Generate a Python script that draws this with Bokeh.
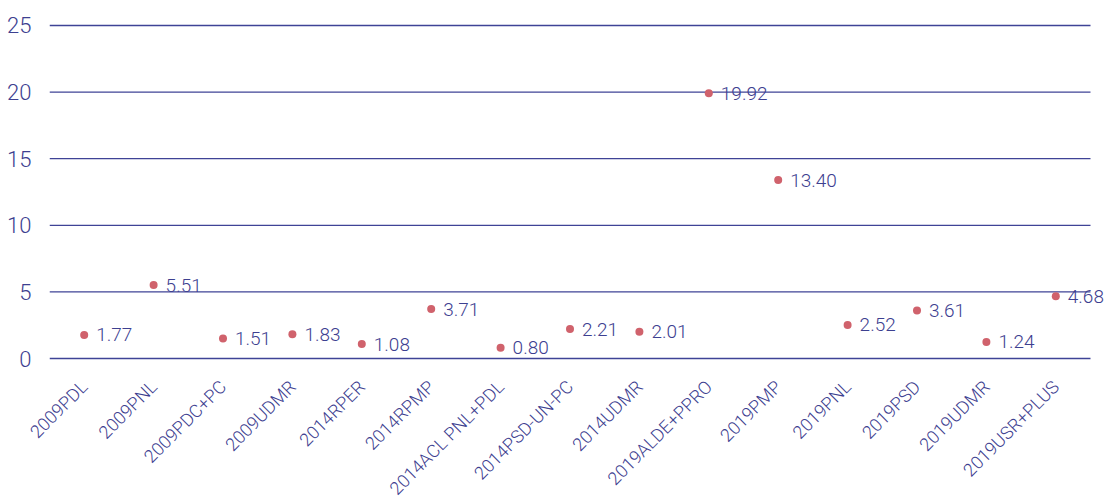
from bokeh.plotting import figure
from bokeh.models import ColumnDataSource, Range1d, FixedTicker
from bokeh.core.properties import value
from bokeh.embed import file_html
from bokeh.resources import INLINE
import math

categories = ["2009PDL", "2009PNL", "2009PDC+PC", "2009UDMR", "2014RPER", "2014RPMP",
              "2014ACL PNL+PDL", "2014PSD-UN-PC", "2014UDMR", "2019ALDE+PPRO", "2019PMP",
              "2019PNL", "2019PSD", "2019UDMR", "2019USR+PLUS"]
values = [1.77, 5.51, 1.51, 1.83, 1.08, 3.71, 0.80, 2.21, 2.01, 19.92, 13.40, 2.52, 3.61, 1.24, 4.68]
y_ticks = [0, 5, 10, 15, 20, 25]

FONT = "Roboto Light"
TEXT_COLOR = "#3d4090"
LINE_COLOR = "#3f4396"
DOT_COLOR = "#d0626c"

idx = list(range(len(categories)))
src = ColumnDataSource(dict(x=idx, cat=categories, val=values, lab=["%.2f" % v for v in values]))

n = len(categories)
# frame spans the category bands plus a little room on the right for the last value label
p = figure(frame_width=1058, frame_height=341,
           x_range=Range1d(-0.5, n - 0.5 + 0.245), y_range=Range1d(-0.3, 25.3),
           output_backend="svg", toolbar_location=None,
           min_border_left=49, min_border_right=0, min_border_top=21, min_border_bottom=0)
p.outline_line_color = None
p.background_fill_color = "white"
p.border_fill_color = "white"

p.xgrid.grid_line_color = None
p.ygrid.grid_line_color = None

# horizontal gridlines across the category bands only
p.segment(x0=[-0.5] * len(y_ticks), x1=[n - 0.5] * len(y_ticks), y0=y_ticks, y1=y_ticks,
          line_color=LINE_COLOR, line_width=1.3)

p.yaxis.ticker = FixedTicker(ticks=y_ticks)
p.xaxis.ticker = FixedTicker(ticks=idx)
p.xaxis.major_label_overrides = {i: c for i, c in zip(idx, categories)}

for ax in (p.xaxis, p.yaxis):
    ax.axis_line_color = None
    ax.major_tick_line_color = None
    ax.minor_tick_line_color = None
    ax.major_label_text_color = TEXT_COLOR
    ax.major_label_text_font = FONT

p.yaxis.major_label_text_font_size = "22px"
p.yaxis.major_label_standoff = 12
p.xaxis.major_label_text_font_size = "18px"
p.xaxis.major_label_orientation = math.pi / 4
p.xaxis.major_label_standoff = 15

p.scatter(x="x", y="val", source=src, size=8, fill_color=DOT_COLOR, line_color=None)
p.text(x="x", y="val", text="lab", source=src, x_offset=12, text_baseline="middle",
       text_align="left", text_font=value(FONT), text_font_size="19px", text_color=TEXT_COLOR)

open("out.html", "w").write(file_html(p, INLINE))
